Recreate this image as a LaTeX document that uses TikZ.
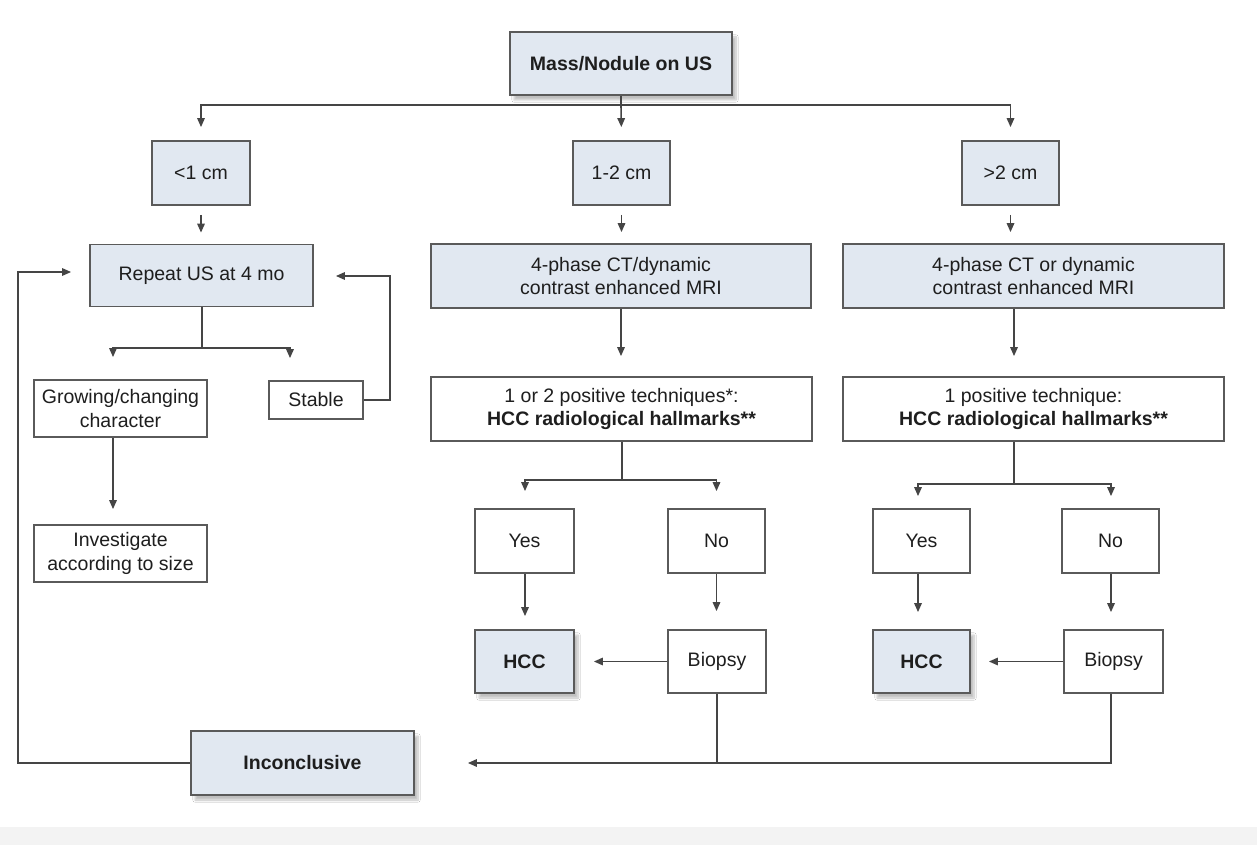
\documentclass[tikz,border=0pt]{standalone}
\usepackage{fontspec}
\setmainfont{Liberation Sans}
\usetikzlibrary{arrows.meta,shadows.blur}
\definecolor{boxblue}{HTML}{E1E8F1}
\definecolor{edgec}{HTML}{5A5A5A}
\definecolor{wirec}{HTML}{454545}
\definecolor{txtc}{HTML}{1E1E1E}
\definecolor{bandc}{HTML}{F3F3F3}
\begin{document}
\begin{tikzpicture}[x=1pt,y=-1pt,
  box/.style={draw=edgec,line width=1.8pt,inner sep=0pt,align=center,text=txtc,
    font=\fontsize{19.5}{23.5}\selectfont},
  bluebox/.style={box,fill=boxblue},
  whitebox/.style={box,fill=white},
  shad/.style={blur shadow={shadow xshift=4pt,shadow yshift=-5pt,shadow blur steps=8,shadow opacity=25}},
  wire/.style={draw=wirec,line width=1.6pt},
  arr/.style={wire,-{Triangle[length=9pt,width=7.5pt]}}]
\fill[white] (0,0) rectangle (1257,845);
\fill[bandc] (0,827) rectangle (1257,845);
\useasboundingbox (0,0) rectangle (1257,845);

% nodes
\node[bluebox,shad,minimum width=222pt,minimum height=63pt] (top) at (621,63.5) {\textbf{Mass/Nodule on US}};
\node[bluebox,minimum width=98pt,minimum height=64pt] (lt1) at (201,173) {<1 cm};
\node[bluebox,minimum width=97pt,minimum height=64pt] (mid1) at (621.5,173) {1-2 cm};
\node[bluebox,minimum width=97pt,minimum height=64pt] (r1) at (1010.5,173) {>2 cm};
\node[bluebox,minimum width=223pt,minimum height=62pt] (rep) at (201.5,275.5) {Repeat US at 4 mo};
\node[bluebox,minimum width=380pt,minimum height=64pt] (ct1) at (621,276) {4-phase CT/dynamic\\contrast enhanced MRI};
\node[bluebox,minimum width=381pt,minimum height=64pt] (ct2) at (1033.5,276) {4-phase CT or dynamic\\contrast enhanced MRI};
\node[whitebox,minimum width=173pt,minimum height=57pt] (grow) at (120.5,408.5) {Growing/changing\\character};
\node[whitebox,minimum width=94pt,minimum height=38pt] (stable) at (316,400) {Stable};
\node[whitebox,minimum width=173pt,minimum height=57pt] (inv) at (120.5,553.5) {Investigate\\according to size};
\node[whitebox,minimum width=381pt,minimum height=64pt] (pos1) at (621.5,409) {1 or 2 positive techniques*:\\\textbf{HCC radiological hallmarks**}};
\node[whitebox,minimum width=381pt,minimum height=64pt] (pos2) at (1033.5,409) {1 positive technique:\\\textbf{HCC radiological hallmarks**}};
\node[whitebox,minimum width=99pt,minimum height=64pt] (yes1) at (524.5,541) {Yes};
\node[whitebox,minimum width=97pt,minimum height=64pt] (no1) at (716.5,541) {No};
\node[bluebox,shad,minimum width=99pt,minimum height=63pt] (hcc1) at (524.5,661.5) {\textbf{HCC}};
\node[whitebox,minimum width=98pt,minimum height=63pt] (bio1) at (717,661.5) {Biopsy};
\node[whitebox,minimum width=97pt,minimum height=64pt] (yes2) at (921.5,541) {Yes};
\node[whitebox,minimum width=97pt,minimum height=64pt] (no2) at (1110.5,541) {No};
\node[bluebox,shad,minimum width=97pt,minimum height=63pt] (hcc2) at (921.5,661.5) {\textbf{HCC}};
\node[whitebox,minimum width=99pt,minimum height=63pt] (bio2) at (1113.5,661.5) {Biopsy};
\node[bluebox,shad,minimum width=223pt,minimum height=64pt] (inc) at (302.5,763) {\textbf{Inconclusive}};

% junction coordinates
\coordinate (fan) at (621,105);
\coordinate (rb) at (202,348);
\coordinate (gx) at (113,0);
\coordinate (sx) at (290,0);
\coordinate (b1) at (622,480);
\coordinate (y1x) at (525,0);
\coordinate (b2) at (1014,484);
\coordinate (y2x) at (918,0);
\coordinate (n2x) at (1111,0);
\coordinate (loopl) at (18,272);
\coordinate (loopr) at (390,276);

% top fan
\draw[wire] (top.south) -- (fan);
\draw[arr,shorten >=13pt] (fan) -| (lt1.north);
\draw[arr,shorten >=13pt] (fan) -- (mid1.north);
\draw[arr,shorten >=13pt] (fan) -| (r1.north);

% size boxes down
\draw[arr,shorten <=9pt,shorten >=11pt] (lt1.south) -- (lt1.south |- rep.north);
\draw[arr,shorten <=9pt,shorten >=11pt] (mid1.south) -- (mid1.south |- ct1.north);
\draw[arr,shorten <=9pt,shorten >=11pt] (r1.south) -- (r1.south |- ct2.north);

% left column
\draw[wire] (rep.south -| rb) -- (rb);
\draw[arr,shorten >=22pt] (rb) -| (gx |- grow.north);
\draw[arr,shorten >=22pt] (rb) -| (sx |- stable.north);
\draw[arr,shorten >=15pt] (gx |- grow.south) -- (gx |- inv.north);
\draw[arr,shorten >=22pt] (stable.east) -| (loopr) -- (rep.east |- loopr);
\draw[arr,shorten >=18pt] (inc.west) -| (loopl) -- (rep.west |- loopl);

% middle column
\draw[arr,shorten >=20pt] (ct1.south) -- (pos1.north -| ct1.south);
\draw[wire] (pos1.south -| b1) -- (b1);
\draw[arr,shorten >=17pt] (b1) -| (y1x |- yes1.north);
\draw[arr,shorten >=17pt] (b1) -| (no1.north);
\draw[arr,shorten >=13pt] (y1x |- yes1.south) -- (y1x |- hcc1.north);
\draw[arr,shorten >=18pt] (no1.south) -- (no1.south |- bio1.north);
\draw[arr,shorten >=19pt] (bio1.west) -- (hcc1.east);

% right column
\draw[arr,shorten >=20pt] (b2 |- ct2.south) -- (b2 |- pos2.north);
\draw[wire] (b2 |- pos2.south) -- (b2);
\draw[arr,shorten >=12pt] (b2) -| (y2x |- yes2.north);
\draw[arr,shorten >=12pt] (b2) -| (n2x |- no2.north);
\draw[arr,shorten >=17pt] (y2x |- yes2.south) -- (y2x |- hcc2.north);
\draw[arr,shorten >=17pt] (n2x |- no2.south) -- (n2x |- bio2.north);
\draw[arr,shorten >=18pt] (bio2.west) -- (hcc2.east);

% bottom return
\draw[wire] (bio1.south) -- (bio1.south |- inc.east);
\draw[arr,shorten >=53pt] (n2x |- bio2.south) |- (inc.east);
\end{tikzpicture}
\end{document}
